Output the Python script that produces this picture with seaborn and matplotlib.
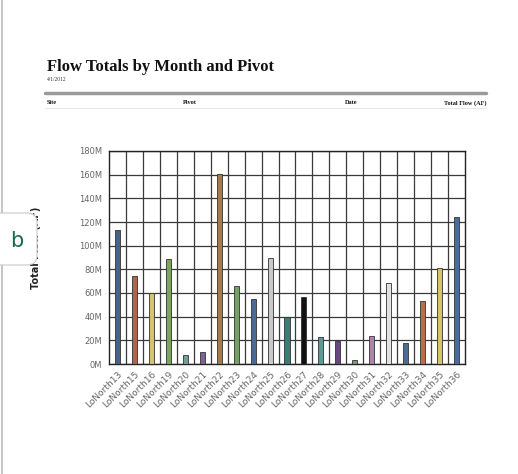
import matplotlib
matplotlib.use("Agg")
import matplotlib.pyplot as plt
import seaborn as sns
import pandas as pd
from matplotlib.patches import FancyBboxPatch
from matplotlib.lines import Line2D

sites = ["LoNorth13", "LoNorth15", "LoNorth16", "LoNorth19", "LoNorth20", "LoNorth21",
         "LoNorth22", "LoNorth23", "LoNorth24", "LoNorth25", "LoNorth26", "LoNorth27",
         "LoNorth28", "LoNorth29", "LoNorth30", "LoNorth31", "LoNorth32", "LoNorth33",
         "LoNorth34", "LoNorth35", "LoNorth36"]
flow_m = [113, 74, 60, 88.5, 7.6, 10.4, 160.6, 66, 54.6, 89.3, 39.4, 57,
          23, 19.7, 3.4, 23.7, 68.2, 18, 53.5, 80.8, 124]
bar_colors = ["#3a5f9a", "#c4573e", "#e6cf5c", "#7ab34c", "#6fa3a0", "#7b5c9c",
              "#b47c3c", "#6dab5c", "#3b67a9", "#c9c9c9", "#2b8a80", "#121212",
              "#4ba9a0", "#6a3d8c", "#7a9a7a", "#b27cb2", "#e2e2e2", "#3b6aa9",
              "#d0623c", "#e8d152", "#3a69b1"]
y_ticks_m = [0, 20, 40, 60, 80, 100, 120, 140, 160, 180]

df = pd.DataFrame({"site": sites, "flow": [v * 1e6 for v in flow_m]})

sns.set_theme(style="white")
plt.rcParams['font.family'] = ['DejaVu Sans']

fig = plt.figure(figsize=(5.18, 4.74), dpi=100)
W, H = 518, 474
ax = fig.add_axes([109 / W, 1 - 364 / H, (465 - 109) / W, (364 - 151) / H])

sns.barplot(data=df, x="site", y="flow", hue="site", palette=bar_colors,
            legend=False, width=0.3, ax=ax, edgecolor="#333333", linewidth=0.6,
            zorder=3)

ax.set_ylim(0, 180e6)
ax.set_xlim(-0.5, len(sites) - 0.5)
ax.set_yticks([v * 1e6 for v in y_ticks_m])
ax.set_yticklabels([f"{v}M" for v in y_ticks_m], fontsize=6, color="#666666")
ax.set_xticks(range(len(sites)))
ax.set_xticklabels(sites, rotation=45, ha="right", rotation_mode="anchor",
                   fontsize=6.5, color="#666666")
ax.set_xticks([i + 0.5 for i in range(len(sites) - 1)], minor=True)
ax.tick_params(axis="x", which="both", length=0, pad=4)
ax.tick_params(axis="y", length=2, width=0.6, color="#333333", pad=3)
ax.grid(axis="y", which="major", color="#3a3a3a", linewidth=0.9, zorder=0)
ax.grid(axis="x", which="minor", color="#3a3a3a", linewidth=0.9, zorder=0)
ax.grid(axis="x", which="major", visible=False)
ax.set_axisbelow(True)
for s in ax.spines.values():
    s.set_color("#222222")
    s.set_linewidth(1.0)
ax.set_xlabel("")
ax.set_ylabel("")

# y axis label
fig.text(36 / W, 1 - 248 / H, "Total Flow (AF)", rotation=90, ha="center", va="center",
         fontsize=7, fontweight="bold", color="#222222")

# report header
fig.text(47 / W, 1 - 67 / H, "Flow Totals by Month and Pivot", fontsize=12,
         fontweight="bold", family="Liberation Serif", ha="left", va="center", color="#111111")
fig.text(47 / W, 1 - 80 / H, "4/1/2012", fontsize=4, family="Liberation Serif",
         ha="left", va="center", color="#333333")
fig.add_artist(Line2D([45 / W, 486 / W], [1 - 93 / H, 1 - 93 / H], color="#9a9a9a",
                      linewidth=2.5, transform=fig.transFigure))
for x, t, ha in [(47, "Site", "left"), (183, "Pivot", "left"), (345, "Date", "left"),
                 (486, "Total Flow (AF)", "right")]:
    fig.text(x / W, 1 - 103 / H, t, fontsize=4.5, fontweight="bold",
             family="Liberation Serif", ha=ha, va="center", color="#111111")
fig.add_artist(Line2D([45 / W, 486 / W], [1 - 108 / H, 1 - 108 / H], color="#dddddd",
                      linewidth=0.5, transform=fig.transFigure))

# left page edge
fig.add_artist(Line2D([1.5 / W, 1.5 / W], [0, 1], color="#bbbbbb", linewidth=1.2,
                      transform=fig.transFigure))

# "b" badge
box = FancyBboxPatch((-8 / W, 1 - 265 / H), 45 / W, 52 / H,
                     boxstyle="round,pad=0,rounding_size=0.02", transform=fig.transFigure,
                     facecolor="white", edgecolor="#c8c8c8", linewidth=0.8, zorder=10)
fig.add_artist(box)
fig.text(17 / W, 1 - 241 / H, "b", fontsize=15, color="#1b6b47", ha="center",
         va="center", zorder=11)

fig.savefig("out.png", dpi=100, facecolor="white")
